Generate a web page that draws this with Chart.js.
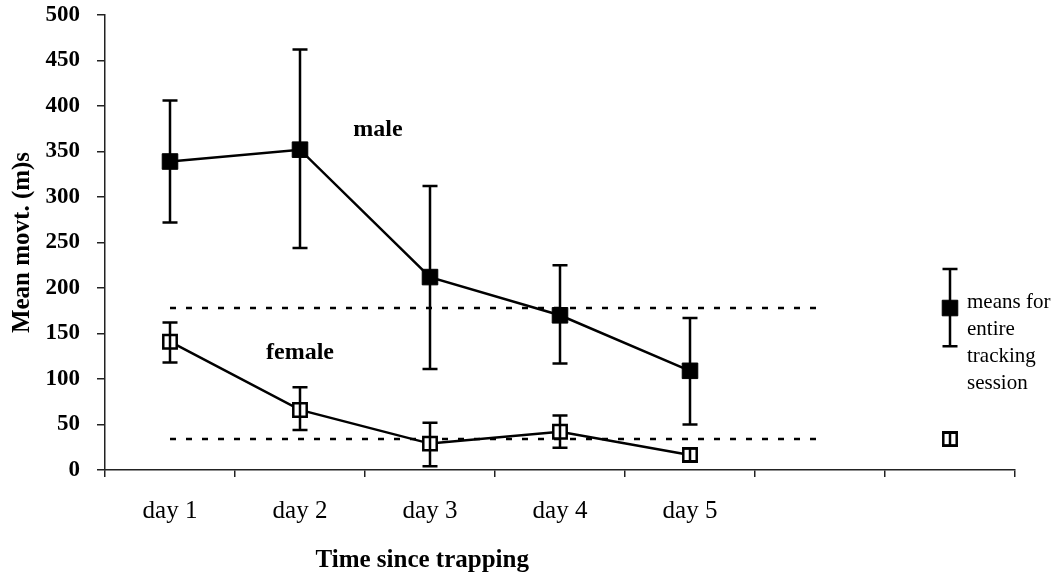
<!DOCTYPE html>
<html>
<head>
<meta charset="utf-8">
<title>Mean movement since trapping</title>
<script src="https://cdn.jsdelivr.net/npm/chart.js@4.4.1/dist/chart.umd.min.js"></script>
<style>
  html, body { margin: 0; padding: 0; background: #ffffff; }
  #wrap { width: 1063px; height: 578px; }
</style>
</head>
<body>
<div id="wrap"><canvas id="chart" width="1063" height="578"></canvas></div>
<script>
// Categories: five tracking days, an empty slot, then the whole-session slot
const dayLabels = ['day 1', 'day 2', 'day 3', 'day 4', 'day 5', '', ''];

// Daily means (m) with upper / lower error-bar ends
const maleMean = [339, 352, 212, 170, 109];
const maleHigh = [406, 462, 312, 225, 167];
const maleLow  = [272, 244, 111, 117, 50];

const femaleMean = [141, 66, 29, 42, 16.5];
const femaleHigh = [162, 91, 52, 60, 23.5];
const femaleLow  = [118, 44, 4, 24.5, 9.5];

// Means for the entire tracking session
const maleSession = 178;
const maleSessionHigh = 221;
const maleSessionLow = 136;
const femaleSession = 34;
const femaleSessionHigh = 41;
const femaleSessionLow = 27;

// Y axis ticks
const yTickMin = 0;
const yTickMax = 500;
const yTickStep = 50;

const SERIF = "'Liberation Serif', 'Times New Roman', serif";
const INK = '#000000';

// Place a short array into the 7 category slots starting at `start`
function slot(values, start) {
  const out = new Array(dayLabels.length).fill(null);
  values.forEach((v, i) => { out[start + i] = v; });
  return out;
}
const sessionSpan = dayLabels.length - 1;   // reference lines run day 1 .. empty slot
const lastSlot = dayLabels.length - 1;

// Draws vertical error bars with caps for datasets carrying errHigh / errLow
const errorBarPlugin = {
  id: 'errorBars',
  afterDatasetsDraw(chart) {
    const ctx = chart.ctx;
    const y = chart.scales.y;
    chart.data.datasets.forEach((ds, di) => {
      if (!ds.errHigh) return;
      const meta = chart.getDatasetMeta(di);
      ctx.save();
      ctx.strokeStyle = INK;
      ctx.lineWidth = 2.5;
      ds.errHigh.forEach((hi, i) => {
        const lo = ds.errLow[i];
        if (hi == null || lo == null || !meta.data[i]) return;
        const px = meta.data[i].x;
        const yh = y.getPixelForValue(hi);
        const yl = y.getPixelForValue(lo);
        const cap = 7.5;
        ctx.beginPath();
        ctx.moveTo(px, yh); ctx.lineTo(px, yl);
        ctx.moveTo(px - cap, yh); ctx.lineTo(px + cap, yh);
        ctx.moveTo(px - cap, yl); ctx.lineTo(px + cap, yl);
        ctx.stroke();
      });
      ctx.restore();
    });
  }
};

// Text placed in data coordinates (category index, value)
const notes = [
  { text: 'male',   x: 1.6,  y: 374, bold: true,  align: 'center' },
  { text: 'female', x: 1.0,  y: 129, bold: true,  align: 'center' }
];
const sessionNote = ['means for', 'entire', 'tracking', 'session'];

const textPlugin = {
  id: 'chartText',
  afterDraw(chart) {
    const ctx = chart.ctx;
    const xs = chart.scales.x;
    const ys = chart.scales.y;
    ctx.save();
    ctx.fillStyle = INK;
    ctx.textBaseline = 'middle';
    notes.forEach(n => {
      ctx.font = (n.bold ? 'bold ' : '') + '24px ' + SERIF;
      ctx.textAlign = n.align;
      ctx.fillText(n.text, xs.getPixelForValue(n.x), ys.getPixelForValue(n.y));
    });
    // session legend text beside the last slot's markers
    ctx.font = '21px ' + SERIF;
    ctx.textAlign = 'left';
    const lx = xs.getPixelForValue(lastSlot) + 17;
    const ly = ys.getPixelForValue(maleSession + 6);
    sessionNote.forEach((line, i) => ctx.fillText(line, lx, ly + i * 27));
    // x axis title
    ctx.font = 'bold 25px ' + SERIF;
    ctx.textAlign = 'center';
    ctx.fillText('Time since trapping', xs.getPixelForValue(1.94), chart.chartArea.bottom + 91);
    ctx.restore();
  }
};

const lineBase = {
  borderColor: INK,
  borderWidth: 2.5,
  pointStyle: 'rect',
  pointBorderColor: INK,
  spanGaps: false,
  tension: 0
};

new Chart(document.getElementById('chart'), {
  type: 'line',
  data: {
    labels: dayLabels,
    datasets: [
      Object.assign({}, lineBase, {
        label: 'male',
        data: slot(maleMean, 0),
        errHigh: slot(maleHigh, 0),
        errLow: slot(maleLow, 0),
        pointRadius: 11,
        pointBackgroundColor: INK,
        pointBorderWidth: 1
      }),
      Object.assign({}, lineBase, {
        label: 'female',
        data: slot(femaleMean, 0),
        errHigh: slot(femaleHigh, 0),
        errLow: slot(femaleLow, 0),
        pointRadius: 9.5,
        pointBackgroundColor: '#ffffff',
        pointBorderWidth: 2.5
      }),
      Object.assign({}, lineBase, {
        label: 'male session',
        data: slot([maleSession], lastSlot),
        errHigh: slot([maleSessionHigh], lastSlot),
        errLow: slot([maleSessionLow], lastSlot),
        showLine: false,
        pointRadius: 11,
        pointBackgroundColor: INK,
        pointBorderWidth: 1
      }),
      Object.assign({}, lineBase, {
        label: 'female session',
        data: slot([femaleSession], lastSlot),
        errHigh: slot([femaleSessionHigh], lastSlot),
        errLow: slot([femaleSessionLow], lastSlot),
        showLine: false,
        pointRadius: 9.5,
        pointBackgroundColor: '#ffffff',
        pointBorderWidth: 2.5
      }),
      {
        label: 'male session mean line',
        data: slot(new Array(sessionSpan).fill(maleSession), 0),
        borderColor: INK,
        borderWidth: 2.5,
        borderDash: [6, 10],
        pointRadius: 0
      },
      {
        label: 'female session mean line',
        data: slot(new Array(sessionSpan).fill(femaleSession), 0),
        borderColor: INK,
        borderWidth: 2.5,
        borderDash: [6, 10],
        pointRadius: 0
      }
    ]
  },
  options: {
    responsive: false,
    animation: false,
    devicePixelRatio: 1,
    layout: { padding: { top: 15, right: 48, left: 0, bottom: 0 } },
    plugins: {
      legend: { display: false },
      tooltip: { enabled: false }
    },
    scales: {
      x: {
        offset: true,
        grid: {
          offset: true,
          drawOnChartArea: false,
          tickLength: 7,
          color: '#222',
          lineWidth: 1.5
        },
        border: { color: '#222', width: 1.5 },
        ticks: {
          color: INK,
          padding: 19,
          maxRotation: 0,
          autoSkip: false,
          font: { family: SERIF, size: 25 }
        },
        afterFit(scale) { scale.height = 108; }
      },
      y: {
        min: yTickMin,
        max: yTickMax,
        grid: {
          drawOnChartArea: false,
          tickLength: 8,
          color: '#222',
          lineWidth: 1.5
        },
        border: { color: '#222', width: 1.5 },
        ticks: {
          stepSize: yTickStep,
          color: INK,
          padding: 17,
          font: { family: SERIF, size: 23, weight: 'bold' }
        },
        title: {
          display: true,
          text: 'Mean movt. (m)s',
          color: INK,
          font: { family: SERIF, size: 25, weight: 'bold' },
          padding: { top: 8, bottom: 0 }
        },
        afterFit(scale) {
          scale.width = 105;
          scale.paddingTop = 0;
          scale.paddingBottom = 0;
        }
      }
    }
  },
  plugins: [errorBarPlugin, textPlugin]
});
</script>
</body>
</html>
